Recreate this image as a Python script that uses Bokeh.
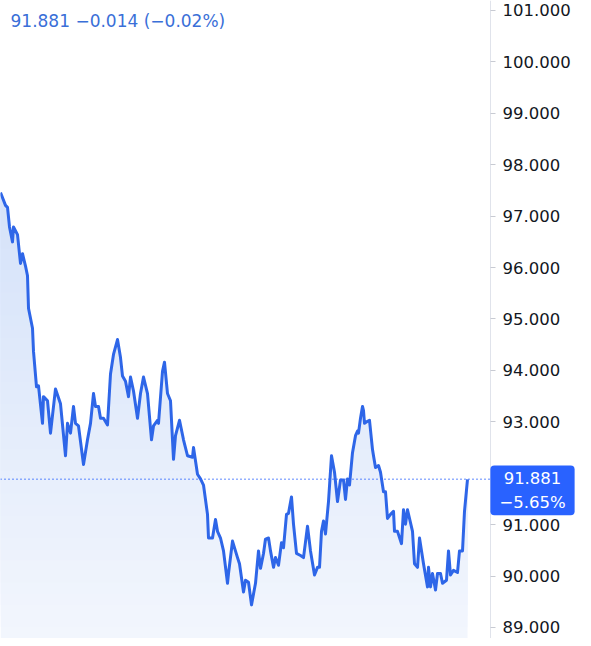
import numpy as np
from bokeh.plotting import figure
from bokeh.models import Range1d, FixedTicker, PrintfTickFormatter, Label, LinearAxis
from bokeh.embed import file_html
from bokeh.resources import INLINE

# time positions (session index) and closing values
t = [0, 5, 7, 8, 9, 12, 13, 17, 20, 22, 25, 27, 28, 32, 33, 36, 38, 42, 43, 47,
     50, 55, 60, 65, 67, 70, 73, 75, 78, 83, 87, 90, 93, 95, 98, 100, 103, 107, 110, 113,
     117, 120, 122, 125, 128, 130, 133, 137, 140, 143, 147, 151, 153, 157, 158, 162, 164, 167, 170, 173,
     175, 179, 183, 187, 192, 193, 197, 200, 203, 207, 208, 212, 215, 217, 220, 223, 227, 228, 232, 237,
     239, 243, 245, 248, 251, 255, 258, 260, 263, 265, 268, 270, 273, 275, 278, 281, 283, 286, 288, 291,
     293, 296, 300, 303, 307, 310, 314, 317, 319, 321, 323, 325, 328, 331, 334, 337, 340, 343, 345, 347,
     349, 352, 355, 357, 358, 360, 362, 363, 364, 367, 369, 372, 373, 375, 378, 380, 383, 385, 387, 390,
     393, 394, 397, 401, 403, 405, 407, 412, 414, 417, 419, 423, 427, 428, 430, 432, 435, 437, 440, 442,
     446, 448, 450, 453, 457, 459, 462, 464, 467]
price = [97.46, 97.21, 97.17, 96.98, 96.79, 96.50, 96.79, 96.64, 96.08, 96.27, 96.03, 95.84, 95.21, 94.82, 94.37, 93.68, 93.70, 92.97, 93.49, 93.41,
         92.78, 93.64, 93.35, 92.34, 92.97, 92.78, 93.30, 92.97, 92.92, 92.17, 92.65, 92.97, 93.55, 93.30, 93.30, 93.07, 93.07, 92.94, 93.93, 94.31,
         94.60, 94.25, 93.89, 93.79, 93.49, 93.87, 93.60, 93.07, 93.55, 93.87, 93.55, 92.65, 92.92, 93.03, 92.97, 93.98, 94.16, 93.55, 93.41, 92.27,
         92.73, 93.03, 92.65, 92.34, 92.31, 92.50, 91.98, 91.89, 91.77, 91.20, 90.74, 90.74, 91.10, 90.87, 90.74, 90.49, 89.86, 90.05, 90.68, 90.36,
         90.24, 89.69, 89.92, 89.88, 89.44, 89.86, 90.49, 90.15, 90.44, 90.72, 90.74, 90.49, 90.17, 90.36, 90.21, 90.65, 90.55, 91.20, 91.22, 91.54,
         91.01, 90.44, 90.40, 90.36, 90.97, 90.49, 90.02, 90.17, 90.17, 90.87, 91.07, 90.82, 91.45, 92.34, 92.02, 91.45, 91.87, 91.87, 91.49, 91.89,
         91.77, 92.40, 92.73, 92.82, 92.78, 93.07, 93.30, 93.22, 92.97, 93.01, 93.03, 92.46, 92.34, 92.11, 92.15, 92.02, 91.64, 91.64, 91.12, 91.20,
         91.26, 90.87, 90.87, 90.63, 91.29, 91.01, 91.29, 90.87, 90.24, 90.17, 90.74, 90.24, 89.79, 90.17, 89.79, 90.05, 89.73, 90.05, 90.05, 89.86,
         89.92, 90.49, 90.02, 90.11, 90.07, 90.49, 90.49, 91.26, 91.881]

last_price = 91.881
header_text = "91.881  \u22120.014 (\u22120.02%)"
badge_text = "91.881\n\u22125.65%"
y_ticks = [89, 90, 91, 93, 94, 95, 96, 97, 98, 99, 100, 101]

FONT = "DejaVu Sans"
BLUE = "#2962ff"
AXIS_X = 490  # time coordinate where the price scale sits

p = figure(frame_width=583, frame_height=638, output_backend="svg", toolbar_location=None,
           x_range=Range1d(0, 583), y_range=Range1d(88.786, 101.194),
           y_axis_location=None, x_axis_location=None,
           min_border_left=0, min_border_top=0, min_border_bottom=0, min_border_right=0)
p.background_fill_color = "white"
p.border_fill_color = "white"
p.outline_line_color = None
p.grid.visible = False

x = np.array(t, dtype=float)
y = np.array(price, dtype=float)
bottom = p.y_range.start
top = y.max()

# vertical gradient under the line: opaque bands, lighter at the bottom
c_bot = np.array([242, 246, 253])
c_top = np.array([213, 226, 249])
K = 40
for k in range(K):
    lev = bottom + (top - bottom) * k / K
    f = k / (K - 1)
    r, g, b = (c_bot + (c_top - c_bot) * f).round().astype(int)
    p.varea(x=x, y1=np.minimum(lev, y), y2=y, fill_color=f"#{r:02x}{g:02x}{b:02x}", fill_alpha=1.0)

p.line(x, y, line_color="#2e66e8", line_width=3, line_join="round")

# dotted last-price line up to the price scale
p.line(x=[p.x_range.start, AXIS_X], y=[last_price, last_price], line_color=BLUE,
       line_dash="1 3", line_width=1.5)

ax = LinearAxis(fixed_location=AXIS_X)
ax.ticker = FixedTicker(ticks=y_ticks)
ax.formatter = PrintfTickFormatter(format="%.3f")
ax.axis_line_color = "#e0e3eb"
ax.major_tick_line_color = "#c8cbd3"
ax.major_tick_out = 5
ax.major_tick_in = 0
ax.minor_tick_line_color = None
ax.major_label_text_color = "#131722"
ax.major_label_text_font = FONT
ax.major_label_text_font_size = "16.5px"
ax.major_label_standoff = 7
p.add_layout(ax, "right")

p.add_layout(Label(x=AXIS_X, y=last_price, x_offset=42, y_offset=-11,
                   text=badge_text, text_align="center", text_baseline="middle",
                   text_color="white", text_font=FONT, text_font_size="16.5px",
                   text_line_height=1.3,
                   background_fill_color=BLUE, border_radius=4, padding=(9, 3)))

p.add_layout(Label(x=p.x_range.start, y=p.y_range.end, x_offset=10, y_offset=-20,
                   text=header_text, text_align="left", text_baseline="middle",
                   text_color="#3a6fd8", text_font=FONT, text_font_size="17px"))

open("out.html", "w").write(file_html(p, INLINE))
